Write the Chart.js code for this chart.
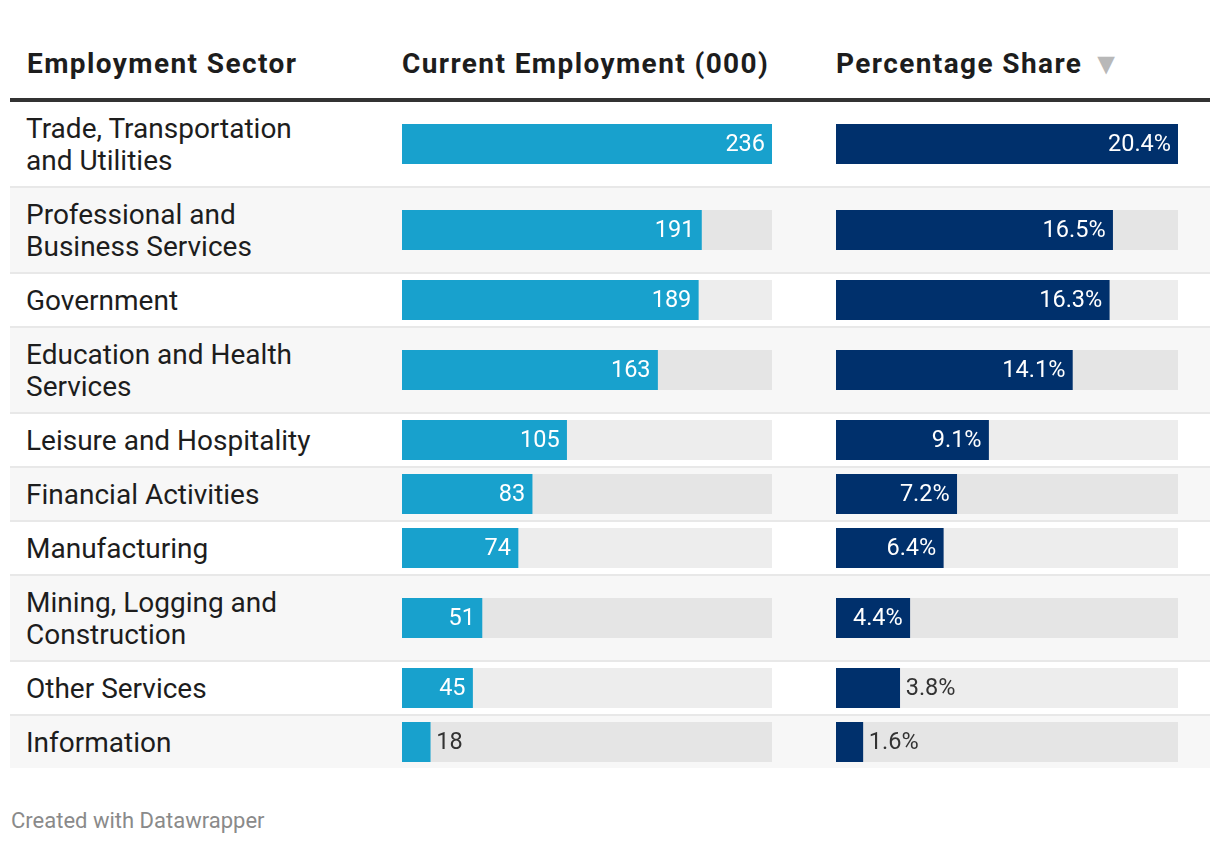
<!DOCTYPE html>
<html>
<head>
<meta charset="utf-8">
<script src="https://cdn.jsdelivr.net/npm/chart.js@4"></script>
<style>
  html, body { margin: 0; padding: 0; background: #fff; }
  body { width: 1220px; height: 844px; font-family: Roboto, "Noto Sans", sans-serif; color: #1d1d1d; position: relative; overflow: hidden; }
  #wrap { position: absolute; left: 10px; top: 0; width: 1200px; }
  table { border-collapse: separate; border-spacing: 0; table-layout: fixed; width: 1200px; }
  th { font-weight: 700; font-size: 28px; letter-spacing: 1.4px; line-height: 32px; text-align: left; padding: 48px 0 18px 0; border-bottom: 4px solid #333; white-space: nowrap; color: #1d1d1d; }
  th.c0 { padding-left: 17px; }
  .arr { color: #b8b8b8; font-size: 30px; line-height: 0; letter-spacing: 0; margin-left: 9px; position: relative; top: 1px; }
  td { padding: 0; vertical-align: middle; }
  td.lab { padding: 11px 0 9px 16px; font-size: 28px; line-height: 32px; }
  td.lab div { width: 300px; }
  tr.alt td { background: #f7f7f7; }
  tbody tr + tr td { border-top: 2px solid #e8e8e8; }
  td canvas { display: block; }
  #foot { margin-top: 41px; font-size: 22px; color: #8a8a8a; line-height: 24px; padding-left: 1px; }
</style>
</head>
<body>
<div id="wrap">
  <table>
    <colgroup><col style="width:392px"><col style="width:434px"><col style="width:374px"></colgroup>
    <thead>
      <tr>
        <th class="c0" id="h0"></th>
        <th class="c1" id="h1"></th>
        <th class="c2" id="h2"></th>
      </tr>
    </thead>
    <tbody id="body"></tbody>
  </table>
  <div id="foot">Created with Datawrapper</div>
</div>
<script>
// ---- data ----
const headers = ["Employment Sector", "Current Employment (000)", "Percentage Share"];
const sectors = [
  "Trade, Transportation and Utilities",
  "Professional and Business Services",
  "Government",
  "Education and Health Services",
  "Leisure and Hospitality",
  "Financial Activities",
  "Manufacturing",
  "Mining, Logging and Construction",
  "Other Services",
  "Information"
];
const employment = [236, 191, 189, 163, 105, 83, 74, 51, 45, 18];
const share = [20.4, 16.5, 16.3, 14.1, 9.1, 7.2, 6.4, 4.4, 3.8, 1.6];

const colorEmployment = "#18a1cd";
const colorShare = "#00306c";
const trackColor = "rgba(0,0,0,0.07)";

document.getElementById("h0").textContent = headers[0];
document.getElementById("h1").textContent = headers[1];
const h2 = document.getElementById("h2");
h2.textContent = headers[2];
const arr = document.createElement("span");
arr.className = "arr";
arr.textContent = "\u25BC";
h2.appendChild(arr);

const valueLabelPlugin = {
  id: "valueLabel",
  afterDatasetsDraw(chart, args, opts) {
    const meta = chart.getDatasetMeta(0);
    const bar = meta.data[0];
    if (!bar) return;
    const v = chart.data.datasets[0].data[0];
    const text = opts.format(v);
    const ctx = chart.ctx;
    ctx.save();
    ctx.font = "23.5px Roboto, sans-serif";
    ctx.textBaseline = "middle";
    const w = ctx.measureText(text).width;
    const barW = bar.x - bar.base;
    const y = bar.y + 1;
    if (barW > w + 20) {
      ctx.fillStyle = "#ffffff";
      ctx.textAlign = "right";
      ctx.fillText(text, bar.x - 7, y);
    } else {
      ctx.fillStyle = "#333333";
      ctx.textAlign = "left";
      ctx.fillText(text, bar.x + 6, y);
    }
    ctx.restore();
  }
};

function makeBar(canvas, label, value, max, color, fmt) {
  return new Chart(canvas, {
    type: "bar",
    data: {
      labels: [label],
      datasets: [
        { data: [value], backgroundColor: color, order: 0, grouped: false, barPercentage: 1, categoryPercentage: 1 },
        { data: [max], backgroundColor: trackColor, order: 1, grouped: false, barPercentage: 1, categoryPercentage: 1 }
      ]
    },
    options: {
      indexAxis: "y",
      responsive: false,
      animation: false,
      events: [],
      layout: { padding: 0 },
      scales: {
        x: { display: false, min: 0, max: max },
        y: { display: false }
      },
      plugins: {
        legend: { display: false },
        tooltip: { enabled: false },
        valueLabel: { format: fmt }
      }
    },
    plugins: [valueLabelPlugin]
  });
}

const maxEmp = Math.max(...employment);
const maxShare = Math.max(...share);
const tbody = document.getElementById("body");

sectors.forEach((s, i) => {
  const tr = document.createElement("tr");
  if (i % 2 === 1) tr.className = "alt";
  const td0 = document.createElement("td");
  td0.className = "lab";
  const d = document.createElement("div");
  d.textContent = s;
  td0.appendChild(d);
  const td1 = document.createElement("td");
  const c1 = document.createElement("canvas");
  c1.width = 370; c1.height = 40;
  td1.appendChild(c1);
  const td2 = document.createElement("td");
  const c2 = document.createElement("canvas");
  c2.width = 342; c2.height = 40;
  td2.appendChild(c2);
  tr.appendChild(td0); tr.appendChild(td1); tr.appendChild(td2);
  tbody.appendChild(tr);
  makeBar(c1, s, employment[i], maxEmp, colorEmployment, v => String(v));
  makeBar(c2, s, share[i], maxShare, colorShare, v => v.toFixed(1) + "%");
});
</script>
</body>
</html>
